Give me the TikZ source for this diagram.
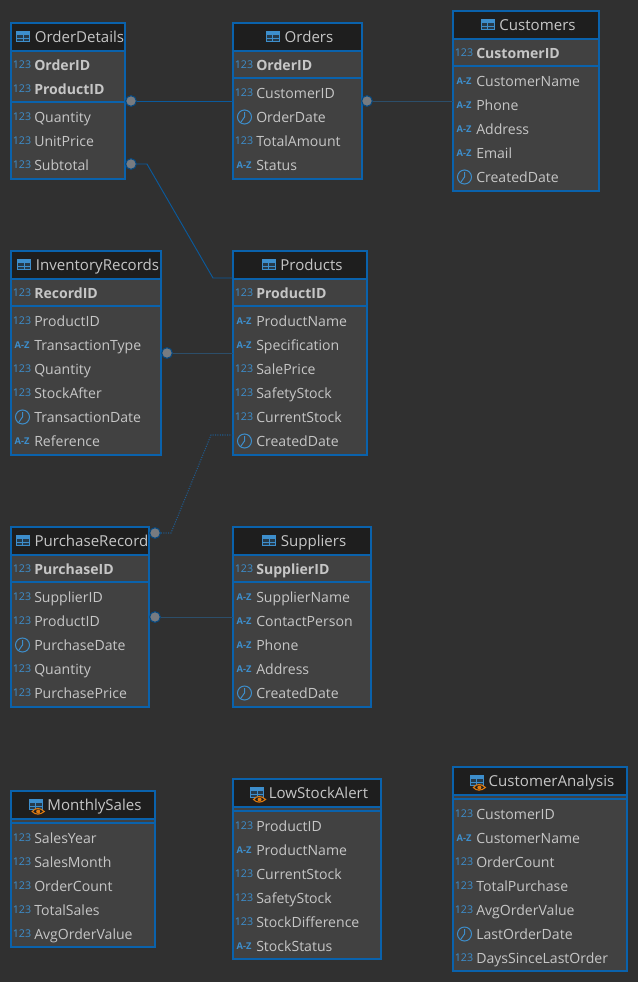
\documentclass[tikz,border=0pt]{standalone}
\usepackage{fontspec}
\setmainfont{Open Sans}
\usetikzlibrary{calc}
\definecolor{bgc}{HTML}{303030}
\definecolor{bodyc}{HTML}{414141}
\definecolor{headc}{HTML}{1E1E1E}
\definecolor{edgec}{HTML}{0A62AC}
\definecolor{txtc}{HTML}{C6C6C6}
\definecolor{iconc}{HTML}{3D8ECC}
\definecolor{linkc}{HTML}{0B5A9C}
\definecolor{dimc}{HTML}{2C4E6A}
\definecolor{dottedc}{HTML}{1F5A8C}
\definecolor{dotc}{HTML}{777B80}
\definecolor{eyec}{HTML}{E07B10}
\newcommand{\colfont}{\fontsize{10.55pt}{12pt}\selectfont}
\newcommand{\headfont}{\fontsize{11.3pt}{13pt}\selectfont}
\newcommand{\icofont}{\fontsize{8pt}{9pt}\selectfont}
\tikzset{
  tbl/.style={draw=edgec,line width=1.5pt,fill=bodyc,anchor=north west,inner sep=0pt,outer sep=0pt},
  sepline/.style={edgec,line width=0.9pt},
  coltext/.style={text=txtc,anchor=base west,inner sep=0pt,font=\colfont},
  pktext/.style={coltext,font=\colfont\bfseries},
  titletext/.style={text=txtc,anchor=base,inner sep=0pt,font=\headfont},
  typeicon/.style={text=iconc,anchor=base,inner sep=0pt,font=\icofont},
  clockicon/.style={circle,draw=iconc,line width=0.75pt,minimum size=10.5pt,inner sep=0pt},
  dotnode/.style={circle,fill=dotc,draw=edgec!75!black,line width=0.8pt,minimum size=8pt,inner sep=0pt},
  relline/.style={linkc,line width=0.7pt},
  dimline/.style={dimc,line width=0.7pt},
  dotline/.style={dottedc,line width=0.8pt,densely dotted},
}
% \rowicon{type}{x}{y}{id}
\newcommand{\rowicon}[4]{%
  \if#1c
    \node[clockicon] (#4) at (#2+11.5,#3) {};
    \draw[iconc,line width=0.75pt] (#2+11.5,#3-5) -- (#2+11.5,#3) -- (#2+8,#3+5);
  \else
    \if#1a
      \node[typeicon] (#4) at (#2+11,#3+3.5) {\fontsize{7pt}{8pt}\selectfont\bfseries A-Z};
    \else
      \node[typeicon] (#4) at (#2+11,#3+3.5) {123};
    \fi
  \fi}
% \tbl{id}{x}{y}{w}{h}{v/t}{title}{pk list}{cols type/name}
\newcounter{rowc}
\newcommand{\tbl}[9]{%
  \node[tbl,minimum width=#4*0.75pt,minimum height=#5*0.75pt] (#1) at (#2,#3) {};
  \fill[headc] (#2,#3) rectangle (#2+#4,#3+28);
  \draw[edgec,line width=1.5pt] (#2,#3) rectangle (#2+#4,#3+#5);
  \node[titletext] (#1-title) at (#2+#4/2+11.5,#3+19) {#7};
  \coordinate (#1-ic) at ($(#1-title.base west)+(-18,-10.5)$);
  \draw[iconc,line width=0.7pt,fill=iconc!25!headc] (#1-ic) rectangle ++(13,10);
  \fill[iconc] (#1-ic) rectangle ++(13,3);
  \draw[iconc,line width=0.7pt] ($(#1-ic)+(0,6.5)$) -- ++(13,0) ($(#1-ic)+(6.5,3)$) -- ++(0,7);
  \if#6v
    \draw[eyec,line width=0.8pt,fill=headc] ($(#1-ic)+(3,12)$) .. controls ($(#1-ic)+(6,8)$) and ($(#1-ic)+(11,8)$) .. ($(#1-ic)+(15,12)$) .. controls ($(#1-ic)+(11,15.5)$) and ($(#1-ic)+(6,15.5)$) .. cycle;
    \fill[eyec] ($(#1-ic)+(9,12)$) circle[radius=2];
  \fi
  \setcounter{rowc}{0}%
  \edef\ypos{\the\numexpr#3+42\relax}%
  \ifx\relax#8\relax
    \draw[sepline] (#2,#3+28) -- (#2+#4,#3+28);
    \draw[sepline] (#2,#3+32) -- (#2+#4,#3+32);
    \edef\ypos{\the\numexpr#3+47\relax}%
  \else
    \draw[sepline] (#2,#3+28) -- (#2+#4,#3+28);
    \foreach \n in {#8} {%
      \stepcounter{rowc}%
      \pgfmathtruncatemacro{\yy}{#3+42+24*(\value{rowc}-1)}%
      \rowicon{i}{#2}{\yy}{#1-ki\arabic{rowc}}
      \node[pktext] (#1-k\arabic{rowc}) at (#2+23,\yy+5.3) {\n};
    }%
    \draw[sepline] (#2,#3+42+24*\value{rowc}-11) -- (#2+#4,#3+42+24*\value{rowc}-11);
    \edef\ypos{\the\numexpr#3+42+24*\value{rowc}+4\relax}%
  \fi
  \setcounter{rowc}{0}%
  \foreach \t/\n in {#9} {%
    \pgfmathtruncatemacro{\yy}{\ypos+24*\value{rowc}}%
    \stepcounter{rowc}%
    \rowicon{\t}{#2}{\yy}{#1-ci\arabic{rowc}}
    \node[coltext] (#1-c\arabic{rowc}) at (#2+23,\yy+5.3) {\n};
  }%
}
\begin{document}
\begin{tikzpicture}[x=0.75pt,y=-0.75pt]
\useasboundingbox (0,0) rectangle (638,982);
\fill[bgc] (0,0) rectangle (638,982);

\tbl{od}{11}{23}{114}{156}{t}{OrderDetails}{OrderID,ProductID}{i/Quantity,i/UnitPrice,i/Subtotal}
\tbl{ord}{233}{23}{129}{156}{t}{Orders}{OrderID}{i/CustomerID,c/OrderDate,i/TotalAmount,a/Status}
\tbl{cus}{453}{11}{146}{180}{t}{Customers}{CustomerID}{a/CustomerName,a/Phone,a/Address,a/Email,c/CreatedDate}
\tbl{inv}{11}{251}{150}{204}{t}{InventoryRecords}{RecordID}{i/ProductID,a/TransactionType,i/Quantity,i/StockAfter,c/TransactionDate,a/Reference}
\tbl{pro}{233}{251}{134}{204}{t}{Products}{ProductID}{a/ProductName,a/Specification,i/SalePrice,i/SafetyStock,i/CurrentStock,c/CreatedDate}
\tbl{pur}{11}{527}{138}{180}{t}{PurchaseRecord}{PurchaseID}{i/SupplierID,i/ProductID,c/PurchaseDate,i/Quantity,i/PurchasePrice}
\tbl{sup}{233}{527}{138}{180}{t}{Suppliers}{SupplierID}{a/SupplierName,a/ContactPerson,a/Phone,a/Address,c/CreatedDate}
\tbl{mon}{11}{791}{144}{156}{v}{MonthlySales}{}{i/SalesYear,i/SalesMonth,i/OrderCount,i/TotalSales,i/AvgOrderValue}
\tbl{low}{233}{779}{148}{180}{v}{LowStockAlert}{}{i/ProductID,a/ProductName,i/CurrentStock,i/SafetyStock,i/StockDifference,a/StockStatus}
\tbl{ana}{453}{767}{174}{204}{v}{CustomerAnalysis}{}{i/CustomerID,a/CustomerName,i/OrderCount,i/TotalPurchase,i/AvgOrderValue,c/LastOrderDate,i/DaysSinceLastOrder}

% connectors
\coordinate (b1) at (147,164);
\coordinate (b2) at (213,278);
\coordinate (b3) at (171,533);
\coordinate (b4) at (211,435);
\node[dotnode] (d1) at (131,101) {};
\node[dotnode] (d2) at (367,101) {};
\node[dotnode] (d3) at (131,164) {};
\node[dotnode] (d4) at (167,353) {};
\node[dotnode] (d5) at (155,533) {};
\node[dotnode] (d6) at (155,617) {};
\draw[relline] (d1) -- (d1 -| ord.west);
\draw[dimline] (d2) -- (d2 -| cus.west);
\draw[relline] (d3) -- (b1) -- (b2) -- (b2 -| pro.west);
\draw[dimline] (d4) -- (d4 -| pro.west);
\draw[dotline] (d5) -- (b3) -- (b4) -- (b4 -| pro.west);
\draw[dimline] (d6) -- (d6 -| sup.west);
\end{tikzpicture}
\end{document}
